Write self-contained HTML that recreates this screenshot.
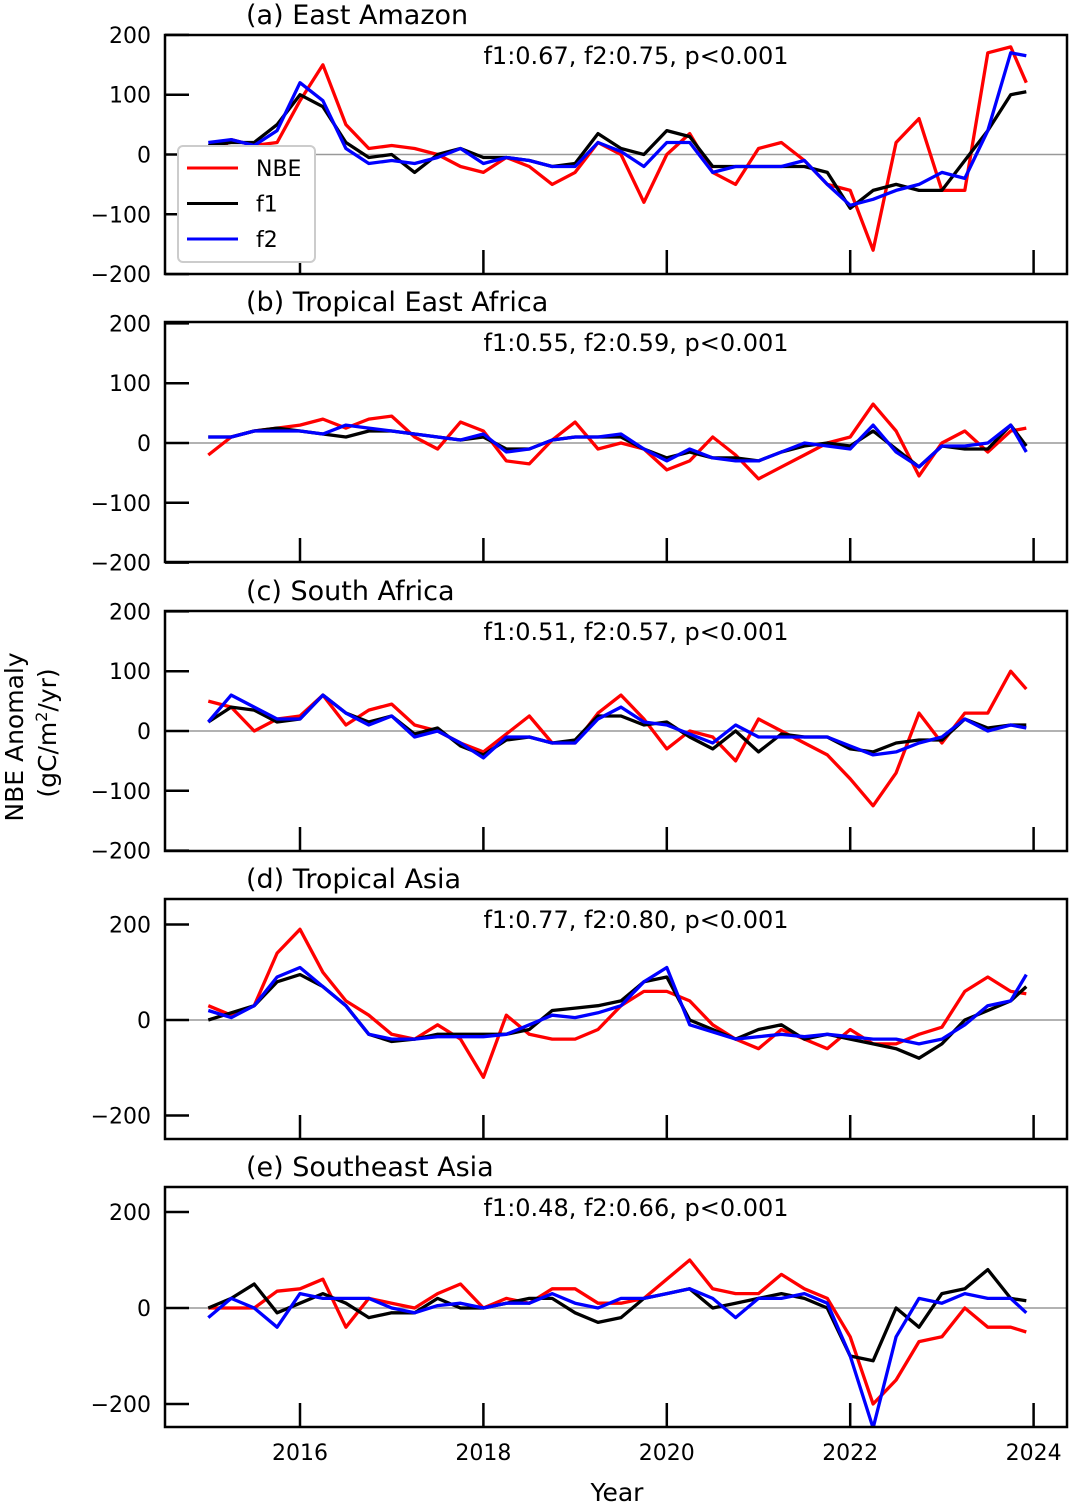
<!DOCTYPE html>
<html><head><meta charset="utf-8"><style>
body{margin:0;background:#fff;}
svg{display:block;font-family:"DejaVu Sans","Liberation Sans",sans-serif;}
</style></head><body>
<svg id="chart" width="1070" height="1506" viewBox="0 0 1070 1506" xmlns="http://www.w3.org/2000/svg"></svg>
<script>
const years=[2015.0,2015.25,2015.5,2015.75,2016.0,2016.25,2016.5,2016.75,2017.0,2017.25,2017.5,2017.75,2018.0,2018.25,2018.5,2018.75,2019.0,2019.25,2019.5,2019.75,2020.0,2020.25,2020.5,2020.75,2021.0,2021.25,2021.5,2021.75,2022.0,2022.25,2022.5,2022.75,2023.0,2023.25,2023.5,2023.75,2023.92];
const xTicks=[2016,2018,2020,2022,2024];
const panelTitles=["(a) East Amazon","(b) Tropical East Africa","(c) South Africa","(d) Tropical Asia","(e) Southeast Asia"];
const panelStats=["f1:0.67, f2:0.75, p<0.001","f1:0.55, f2:0.59, p<0.001","f1:0.51, f2:0.57, p<0.001","f1:0.77, f2:0.80, p<0.001","f1:0.48, f2:0.66, p<0.001"];
const yTicksABC=[200,100,0,-100,-200];
const yTicksDE=[200,0,-200];
const nbeA=[-10,25,15,20,90,150,50,10,15,10,0,-20,-30,-5,-20,-50,-30,20,0,-80,0,35,-30,-50,10,20,-10,-50,-60,-160,20,60,-60,-60,170,180,120];
const f1A=[15,20,20,50,100,80,20,-5,0,-30,0,10,-5,-5,-10,-20,-15,35,10,0,40,30,-20,-20,-20,-20,-20,-30,-90,-60,-50,-60,-60,-10,40,100,105];
const f2A=[20,25,15,40,120,90,10,-15,-10,-15,-5,10,-15,-5,-10,-20,-20,20,5,-20,20,20,-30,-20,-20,-20,-10,-50,-85,-75,-60,-50,-30,-40,40,170,165];
const nbeB=[-20,10,20,25,30,40,25,40,45,10,-10,35,20,-30,-35,5,35,-10,0,-10,-45,-30,10,-20,-60,-40,-20,0,10,65,20,-55,0,20,-15,20,25];
const f1B=[10,10,20,25,20,15,10,20,20,15,10,5,10,-10,-10,5,10,10,10,-10,-25,-15,-25,-25,-30,-15,-5,0,-5,20,-10,-40,-5,-10,-10,30,-5];
const f2B=[10,10,20,20,20,15,30,25,20,15,10,5,15,-15,-10,5,10,10,15,-10,-30,-10,-25,-30,-30,-15,0,-5,-10,30,-15,-40,-5,-5,0,30,-15];
const nbeC=[50,40,0,20,25,60,10,35,45,10,0,-20,-35,-5,25,-20,-20,30,60,20,-30,0,-10,-50,20,0,-20,-40,-80,-125,-70,30,-20,30,30,100,70];
const f1C=[15,40,35,15,20,60,30,15,25,-5,5,-25,-40,-15,-10,-20,-15,25,25,10,15,-10,-30,0,-35,-5,-10,-10,-30,-35,-20,-15,-15,20,5,10,10];
const f2C=[15,60,40,20,20,60,30,10,25,-10,0,-20,-45,-10,-10,-20,-20,20,40,15,10,-5,-20,10,-10,-10,-10,-10,-25,-40,-35,-20,-10,20,0,10,5];
const nbeD=[30,10,30,140,190,100,40,10,-30,-40,-10,-40,-120,10,-30,-40,-40,-20,30,60,60,40,-10,-40,-60,-20,-40,-60,-20,-50,-50,-30,-15,60,90,60,55];
const f1D=[0,15,30,80,95,70,30,-30,-45,-40,-30,-30,-30,-30,-20,20,25,30,40,80,90,0,-20,-40,-20,-10,-40,-30,-40,-50,-60,-80,-50,0,20,40,70];
const f2D=[20,5,30,90,110,70,30,-30,-40,-40,-35,-35,-35,-30,-10,10,5,15,30,80,110,-10,-25,-40,-35,-30,-35,-30,-35,-40,-40,-50,-40,-10,30,40,95];
const nbeE=[0,0,0,35,40,60,-40,20,10,0,30,50,0,20,10,40,40,10,10,20,60,100,40,30,30,70,40,20,-60,-200,-150,-70,-60,0,-40,-40,-50];
const f1E=[0,20,50,-10,10,30,10,-20,-10,-10,20,0,0,10,20,20,-10,-30,-20,20,30,40,0,10,20,30,20,0,-100,-110,0,-40,30,40,80,20,15];
const f2E=[-20,20,0,-40,30,20,20,20,0,-10,5,10,0,10,10,30,10,0,20,20,30,40,20,-20,20,20,30,10,-100,-250,-60,20,10,30,20,20,-10];

const svg=document.getElementById('chart');
const NS="http://www.w3.org/2000/svg";
function mk(tag,attrs,parent){const e=document.createElementNS(NS,tag);for(const k in attrs)e.setAttribute(k,attrs[k]);(parent||svg).appendChild(e);return e;}
const X0=165,X1=1067;
function xs(y){return 300+(y-2016)*91.7;}
const panels=[
 {top:35,bot:274,zero:154.5,k:0.598,ticks:yTicksABC,s:[nbeA,f1A,f2A]},
 {top:322,bot:562,zero:443,k:0.598,ticks:yTicksABC,s:[nbeB,f1B,f2B]},
 {top:611,bot:851,zero:731,k:0.598,ticks:yTicksABC,s:[nbeC,f1C,f2C]},
 {top:899,bot:1139,zero:1020,k:0.4775,ticks:yTicksDE,s:[nbeD,f1D,f2D]},
 {top:1187,bot:1427,zero:1308,k:0.48,ticks:yTicksDE,s:[nbeE,f1E,f2E]}];
const colors=["#ff0000","#000000","#0000ff"];
const snames=["nbe","f1","f2"];
const defs=mk('defs',{});
panels.forEach((p,i)=>{
  const ys=v=>p.zero-v*p.k;
  const g=mk('g',{});
  
  
  const cp=mk('clipPath',{id:'cp'+i},defs);
  mk('rect',{x:X0,y:p.top,width:X1-X0,height:p.bot-p.top},cp);
  const zl=mk('line',{x1:X0,x2:X1,y1:ys(0),y2:ys(0),stroke:'#999','stroke-width':1.5},g);
  
  
  p.s.forEach((arr,j)=>{
    const d=arr.map((v,n)=>(n?'L':'M')+xs(years[n]).toFixed(1)+','+ys(v).toFixed(1)).join(' ');
    const pl=mk('path',{d:d,fill:'none',stroke:colors[j],'stroke-width':3.3,'stroke-linejoin':'round','clip-path':'url(#cp'+i+')'},g);
    
    
  });
  const fr=mk('rect',{x:X0,y:p.top,width:X1-X0,height:p.bot-p.top,fill:'none',stroke:'#000','stroke-width':2.5},g);
  
  
  p.ticks.forEach(t=>{
    const y=ys(t);
    mk('line',{x1:X0,x2:X0+24,y1:y,y2:y,stroke:'#000','stroke-width':2.5},g);
    const tx=mk('text',{x:151,y:y+8,'text-anchor':'end','font-size':22},g);
    tx.textContent=(t<0?'\u2212'+(-t):''+t);
    
    
  });
  xTicks.forEach(t=>{
    mk('line',{x1:xs(t),x2:xs(t),y1:p.bot,y2:p.bot-24,stroke:'#000','stroke-width':2.5},g);
  });
  const ti=mk('text',{x:246,y:p.top-11,'font-size':27},g);
  ti.textContent=panelTitles[i];
  
  
  const st=mk('text',{x:636,y:p.top+29,'text-anchor':'middle','font-size':24},g);
  st.textContent=panelStats[i];
  
  
});
xTicks.forEach(t=>{
  const tx=mk('text',{x:xs(t),y:1460,'text-anchor':'middle','font-size':22});
  tx.textContent=t;
  
  
});
const xt=mk('text',{x:617,y:1501,'text-anchor':'middle','font-size':25});
xt.textContent='Year';


const yt=mk('text',{transform:'translate(23,737) rotate(-90)','text-anchor':'middle','font-size':25});
yt.textContent='NBE Anomaly';


const yu=mk('text',{transform:'translate(56,733) rotate(-90)','text-anchor':'middle','font-size':25});
yu.innerHTML='(gC/m<tspan dy="-9" font-size="16">2</tspan><tspan dy="9">/yr)</tspan>';


const lg=mk('g',{});


mk('rect',{x:178,y:146,width:137,height:116,rx:5,fill:'#fff',stroke:'#ccc','stroke-width':2},lg);
["NBE","f1","f2"].forEach((n,j)=>{
  const y=168+j*35.5;
  mk('line',{x1:187,x2:238,y1:y,y2:y,stroke:colors[j],'stroke-width':3},lg);
  const t=mk('text',{x:256,y:y+8,'font-size':22},lg);
  t.textContent=n;
  
  
});
</script>
</body></html>
